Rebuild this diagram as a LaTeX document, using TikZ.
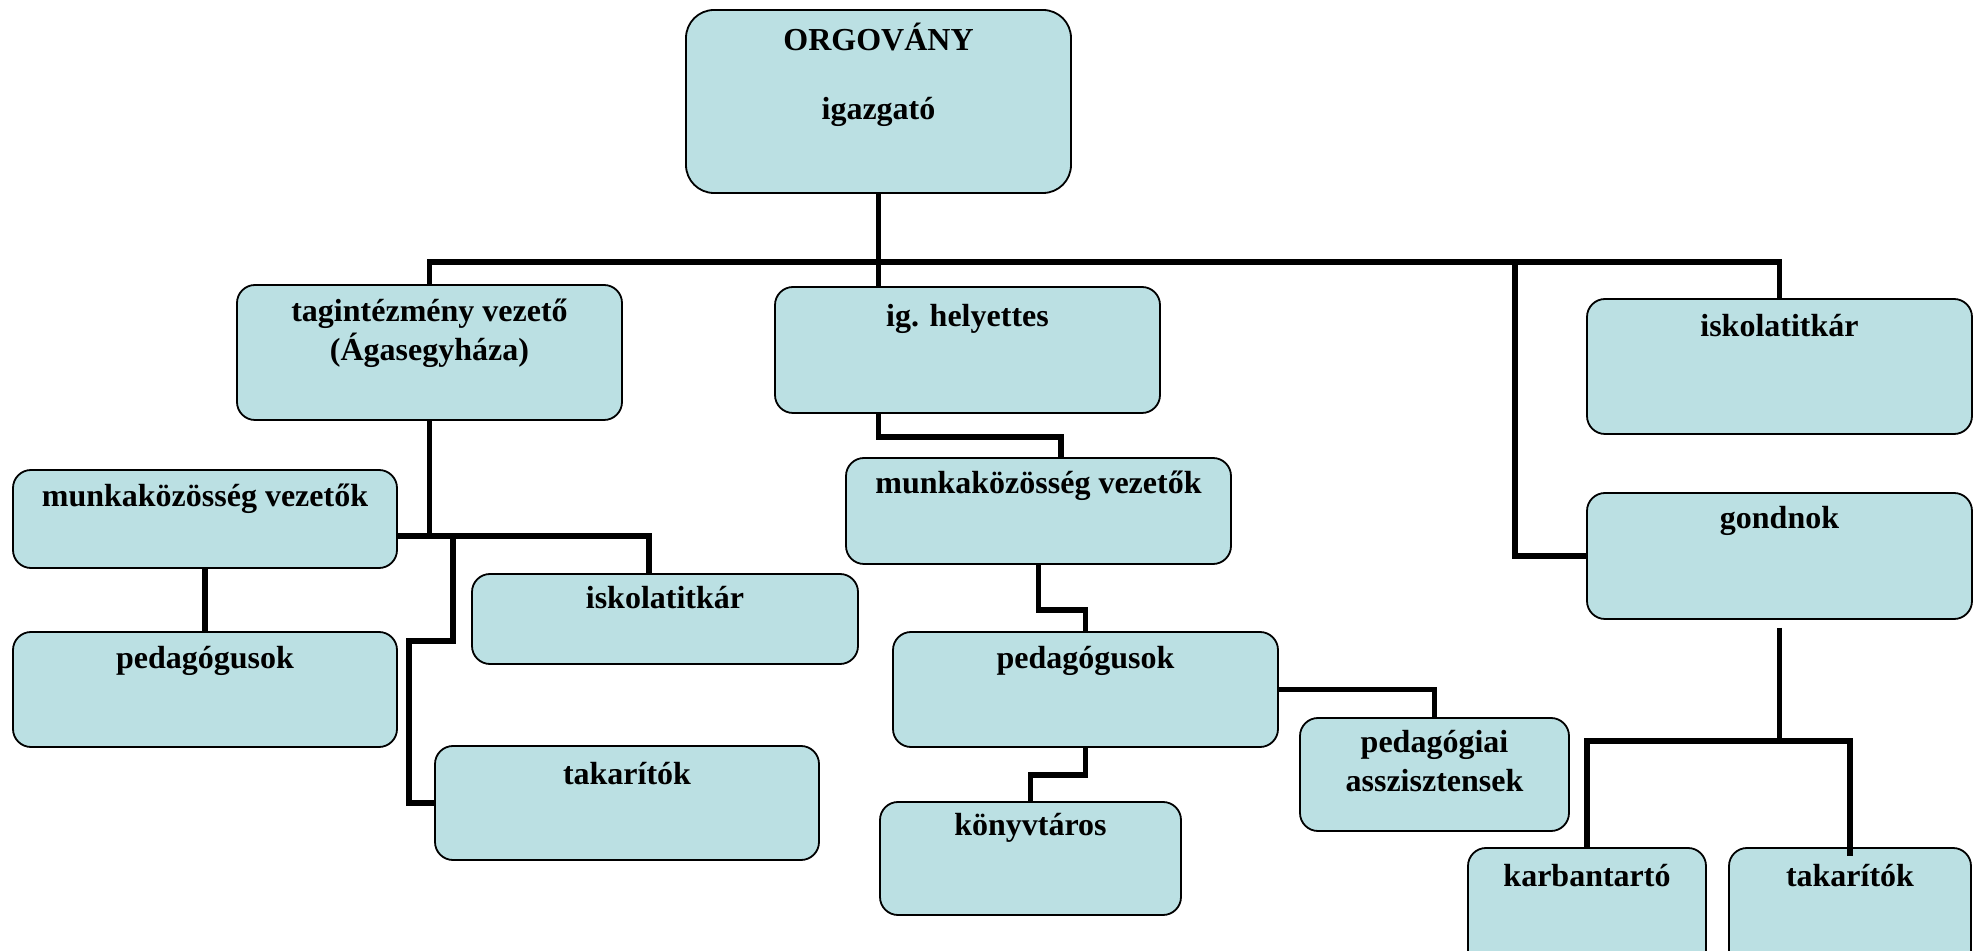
\documentclass[tikz,border=0pt]{standalone}
\usepackage{fontspec}
\setmainfont{Liberation Serif}
\usetikzlibrary{fit,calc}
\definecolor{boxfill}{RGB}{187,224,227}
\begin{document}
\begin{tikzpicture}[x=0.5pt,y=-0.5pt,
  box/.style={draw=black, line width=0.9pt, fill=boxfill, inner sep=0pt, rounded corners=9pt},
  lbl/.style={font=\fontsize{16pt}{19.5pt}\selectfont\bfseries, anchor=base, inner sep=0pt, align=center},
  conn/.style={draw=black, line width=2.9pt}]
\useasboundingbox (0,0) rectangle (1983,951);
\clip (0,0) rectangle (1983,951);
% boxes
\node[box, rounded corners=14pt, fit={(686,10) (1071,193)}] (top) {};
\node[box, fit={(237,285) (622,420)}] (tag) {};
\node[box, fit={(775,287) (1160,413)}] (ighely) {};
\node[box, fit={(1587,299) (1972,434)}] (iskr) {};
\node[box, fit={(13,470) (397,568)}] (mkl) {};
\node[box, fit={(846,458) (1231,564)}] (mkm) {};
\node[box, fit={(1587,493) (1972,619)}] (gond) {};
\node[box, fit={(13,632) (397,747)}] (pedl) {};
\node[box, fit={(472,574) (858,664)}] (iskl) {};
\node[box, fit={(893,632) (1278,747)}] (pedm) {};
\node[box, fit={(435,746) (819,860)}] (takl) {};
\node[box, fit={(1300,718) (1569,831)}] (pedassz) {};
\node[box, fit={(880,802) (1181,915)}] (konyv) {};
\node[box, fit={(1468,848) (1706,985)}] (karb) {};
\node[box, fit={(1729,848) (1971,985)}] (takr) {};
% labels
\node[lbl] (top-t1) at (top.north |- 0,51) {ORGOVÁNY};
\node[lbl] (top-t2) at (top.north |- 0,120) {igazgató};
\node[lbl] (tag-t1) at (tag.north |- 0,322) {tagintézmény vezető};
\node[lbl] (tag-t2) at (tag.north |- 0,361) {(Ágasegyháza)};
\node[lbl] (ighely-t) at (ighely.north |- 0,327) {ig. helyettes};
\node[lbl] (iskr-t) at (iskr.north |- 0,337) {iskolatitkár};
\node[lbl] (mkl-t) at (mkl.north |- 0,507) {munkaközösség vezetők};
\node[lbl] (mkm-t) at (mkm.north |- 0,494) {munkaközösség vezetők};
\node[lbl] (gond-t) at (gond.north |- 0,529) {gondnok};
\node[lbl] (pedl-t) at (pedl.north |- 0,669) {pedagógusok};
\node[lbl] (iskl-t) at (iskl.north |- 0,609) {iskolatitkár};
\node[lbl] (pedm-t) at (pedm.north |- 0,669) {pedagógusok};
\node[lbl] (takl-t) at (takl.north |- 0,785) {takarítók};
\node[lbl] (pedassz-t1) at (pedassz.north |- 0,753) {pedagógiai};
\node[lbl] (pedassz-t2) at (pedassz.north |- 0,792) {asszisztensek};
\node[lbl] (konyv-t) at (konyv.north |- 0,836) {könyvtáros};
\node[lbl] (karb-t) at (karb.north |- 0,886) {karbantartó};
\node[lbl] (takr-t) at (takr.north |- 0,886) {takarítók};
% helper coordinates
\coordinate (bus) at (879,262);
\coordinate (gb) at (1515,262);
\coordinate (tj) at (429.5,536);
\coordinate (tr) at (649,536);
\coordinate (tk) at (453,536);
\coordinate (ij) at (1061,437);
\coordinate (gj) at (1779.5,741);
% connectors
\draw[conn] (top.south) -- (top.south |- ighely.north);
\draw[conn] (tag.north) -- (tag.north |- bus) -- (iskr.north |- bus) -- (iskr.north);
\draw[conn] (gb) |- (gond.west);
\draw[conn] (tag.south) -- (tj);
\draw[conn] (mkl.east |- tj) -- (tr) -- (tr |- iskl.north);
\draw[conn] (tk) -- ++(0,105) -- ++(-44,0) |- (takl.west);
\draw[conn] (mkl.south) -- (pedl.north);
\draw[conn] (ighely.south -| top.south) |- (ij) -- (ij |- mkm.north);
\draw[conn] (mkm.south) -- ++(0,45) -| (pedm.north);
\draw[conn] (pedm.east) -| (pedassz.north);
\draw[conn] (pedm.south) -- ++(0,27) -| (konyv.north);
\draw[conn] ($(gond.south)+(0,8)$) -- (gj);
\draw[conn] (karb.north) -- (karb.north |- gj) -- (takr.north |- gj) -- ($(takr.north)+(0,9)$);
\end{tikzpicture}
\end{document}
